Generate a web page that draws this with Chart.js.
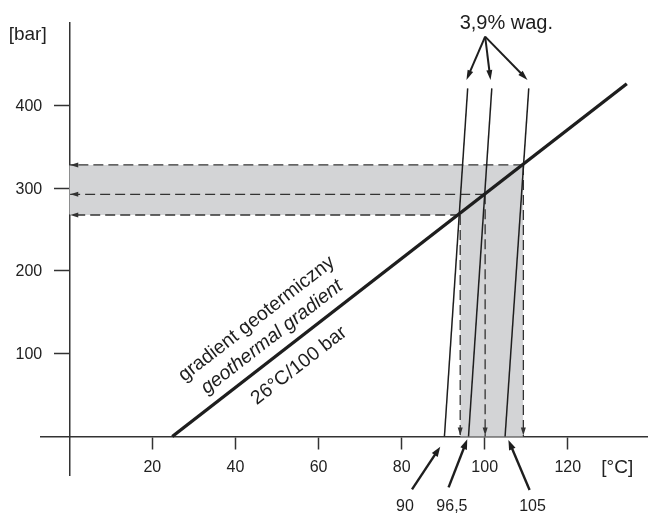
<!DOCTYPE html>
<html>
<head>
<meta charset="utf-8">
<script src="https://cdn.jsdelivr.net/npm/chart.js@4.4.1/dist/chart.umd.min.js"></script>
<style>
  html, body { margin: 0; padding: 0; background: #fff; }
  canvas { display: block; }
</style>
</head>
<body>
<canvas id="chart" width="648" height="513"></canvas>
<script>
// axes: temperature [°C] / pressure [bar]
const xTicks = [20, 40, 60, 80, 100, 120];
const yTicks = [100, 200, 300, 400];

// geothermal gradient 26°C/100 bar
const gradT = [24.8, 134.2];
const gradP = [0, 426];

// 3,9% wag. solution lines
const saltLabels = ['90', '96,5', '105'];
const saltBaseT = [90.3, 96.1, 104.9];
const saltTopT = [95.9, 101.7, 110.6];
const saltTopP = [420.5, 420.5, 420.5];

// where they cross the gradient
const crossT = [94.1, 100.1, 109.3];
const crossP = [267.5, 292.5, 328];

const INK = '#1e1e1e';
const AXIS = '#333333';
const BAND = '#d3d4d6';
const FONT = '"Liberation Sans", Arial, sans-serif';

const pts = (xs, ys) => xs.map((x, i) => ({x: x, y: ys[i]}));

const datasets = [];

// main line
datasets.push({
    data: pts(gradT, gradP),
    borderColor: INK, borderWidth: 3.4, order: 0
});

// solution lines
saltLabels.forEach((lab, i) => {
    datasets.push({
        data: pts([saltBaseT[i], saltTopT[i]], [0, saltTopP[i]]),
        borderColor: INK, borderWidth: 1.5, order: 1
    });
});

// dashed read-offs
crossT.forEach((t, i) => {
    datasets.push({
        data: pts([t, 0], [crossP[i], crossP[i]]),
        borderColor: AXIS, borderWidth: 1.3, borderDash: [10, 5], order: 2
    });
    datasets.push({
        data: pts([t, t], [crossP[i], 0]),
        borderColor: AXIS, borderWidth: 1.3, borderDash: [10, 5], order: 2
    });
});

// grey L-shaped band
datasets.push({
    data: pts([0, crossT[2]], [crossP[2], crossP[2]]),
    borderWidth: 0, borderColor: BAND, backgroundColor: BAND,
    fill: {value: crossP[0]}, order: 3
});
datasets.push({
    data: pts([crossT[0], crossT[2]], [crossP[2], crossP[2]]),
    borderWidth: 0, borderColor: BAND, backgroundColor: BAND,
    fill: {value: 0}, order: 3
});

function arrowHead(ctx, x, y, ang, len, w) {
    ctx.save();
    ctx.translate(x, y);
    ctx.rotate(ang);
    ctx.beginPath();
    ctx.moveTo(0, 0);
    ctx.lineTo(-len, -w / 2);
    ctx.lineTo(-len, w / 2);
    ctx.closePath();
    ctx.fill();
    ctx.restore();
}

function arrow(ctx, x1, y1, x2, y2, lw, len, w) {
    const ang = Math.atan2(y2 - y1, x2 - x1);
    ctx.lineWidth = lw;
    ctx.beginPath();
    ctx.moveTo(x1, y1);
    ctx.lineTo(x2 - Math.cos(ang) * len * 0.8, y2 - Math.sin(ang) * len * 0.8);
    ctx.stroke();
    arrowHead(ctx, x2, y2, ang, len, w);
}

const notes = {
    id: 'notes',
    afterDatasetsDraw(chart) {
        const {ctx, scales: {x, y}} = chart;
        const px = v => x.getPixelForValue(v);
        const py = v => y.getPixelForValue(v);
        ctx.save();

        // y tick labels, left of the tick marks
        ctx.fillStyle = '#222';
        ctx.font = '16px ' + FONT;
        ctx.textAlign = 'right';
        ctx.textBaseline = 'middle';
        y.ticks.forEach(t => {
            ctx.fillText(String(t.value), px(0) - 27, py(t.value) + 1);
        });

        ctx.fillStyle = AXIS;
        ctx.strokeStyle = AXIS;
        // heads on dashed read-offs
        crossT.forEach((t, i) => {
            arrowHead(ctx, px(0) + 1, py(crossP[i]), Math.PI, 8, 5);
            arrowHead(ctx, px(t), py(0) - 1, Math.PI / 2, 8, 5);
        });

        ctx.fillStyle = INK;
        ctx.strokeStyle = INK;
        // 3,9% wag. pointer
        const topX = px(100.1), topY = py(483);
        saltTopT.forEach((t, i) => {
            arrow(ctx, topX, topY, px(t - 0.3), py(saltTopP[i] + 10), 2, 10, 6);
        });
        ctx.textAlign = 'center';
        ctx.font = '20px ' + FONT;
        ctx.fillText('3,9% wag.', px(105.2), py(499));

        // bottom labels
        const labFrom = [[82.5, -63.8], [91.3, -61.4], [110.8, -64.6]];
        const labTo = [[89.3, -12.3], [95.8, -3.4], [105.7, -4.2]];
        const labAt = [80.8, 92.1, 111.5];
        ctx.font = '16px ' + FONT;
        saltLabels.forEach((lab, i) => {
            arrow(ctx, px(labFrom[i][0]), py(labFrom[i][1]), px(labTo[i][0]), py(labTo[i][1]), 2.4, 10, 7);
            ctx.fillText(lab, px(labAt[i]), py(-84.5));
        });

        // units
        ctx.fillStyle = '#222';
        ctx.font = '19px ' + FONT;
        ctx.fillText('[bar]', px(-10.0), py(485));
        ctx.fillText('[°C]', px(131.9), py(-37.5));

        // rotated labels along the gradient
        const ang = Math.atan2(py(gradP[1]) - py(gradP[0]), px(gradT[1]) - px(gradT[0]));
        const rot = [
            ['gradient geotermiczny', '', 45.1, 142.0],
            ['geothermal gradient', 'italic ', 48.8, 120.0],
            ['26°C/100 bar', '', 55.3, 85.4]
        ];
        ctx.fillStyle = INK;
        rot.forEach(r => {
            ctx.save();
            ctx.translate(px(r[2]), py(r[3]));
            ctx.rotate(ang);
            ctx.font = r[1] + '19.5px ' + FONT;
            ctx.fillText(r[0], 0, 0);
            ctx.restore();
        });
        ctx.restore();
    }
};

new Chart(document.getElementById('chart'), {
    type: 'scatter',
    data: { datasets: datasets },
    options: {
        responsive: false,
        animation: false,
        showLine: true,
        layout: { padding: { left: 41, top: 23, right: 0, bottom: 38 } },
        elements: { point: { radius: 0, hoverRadius: 0 }, line: { tension: 0 } },
        plugins: { legend: { display: false }, tooltip: { enabled: false } },
        scales: {
            x: {
                type: 'linear', min: -6.8, max: 139.3,
                position: { y: 0 },
                afterBuildTicks: s => { s.ticks = xTicks.map(v => ({value: v})); },
                grid: { drawOnChartArea: false, color: AXIS, tickLength: 12, tickWidth: 1.5 },
                border: { color: AXIS, width: 1.5 },
                ticks: { color: '#222', font: { family: FONT, size: 16 }, padding: 9, maxRotation: 0 }
            },
            y: {
                type: 'linear', min: -46.5, max: 499.4,
                position: { x: 0 },
                afterBuildTicks: s => { s.ticks = yTicks.map(v => ({value: v})); },
                grid: { drawOnChartArea: false, color: AXIS, tickLength: 15, tickWidth: 1.5 },
                border: { color: AXIS, width: 1.5 },
                ticks: { display: false }
            }
        }
    },
    plugins: [notes]
});
</script>
</body>
</html>
